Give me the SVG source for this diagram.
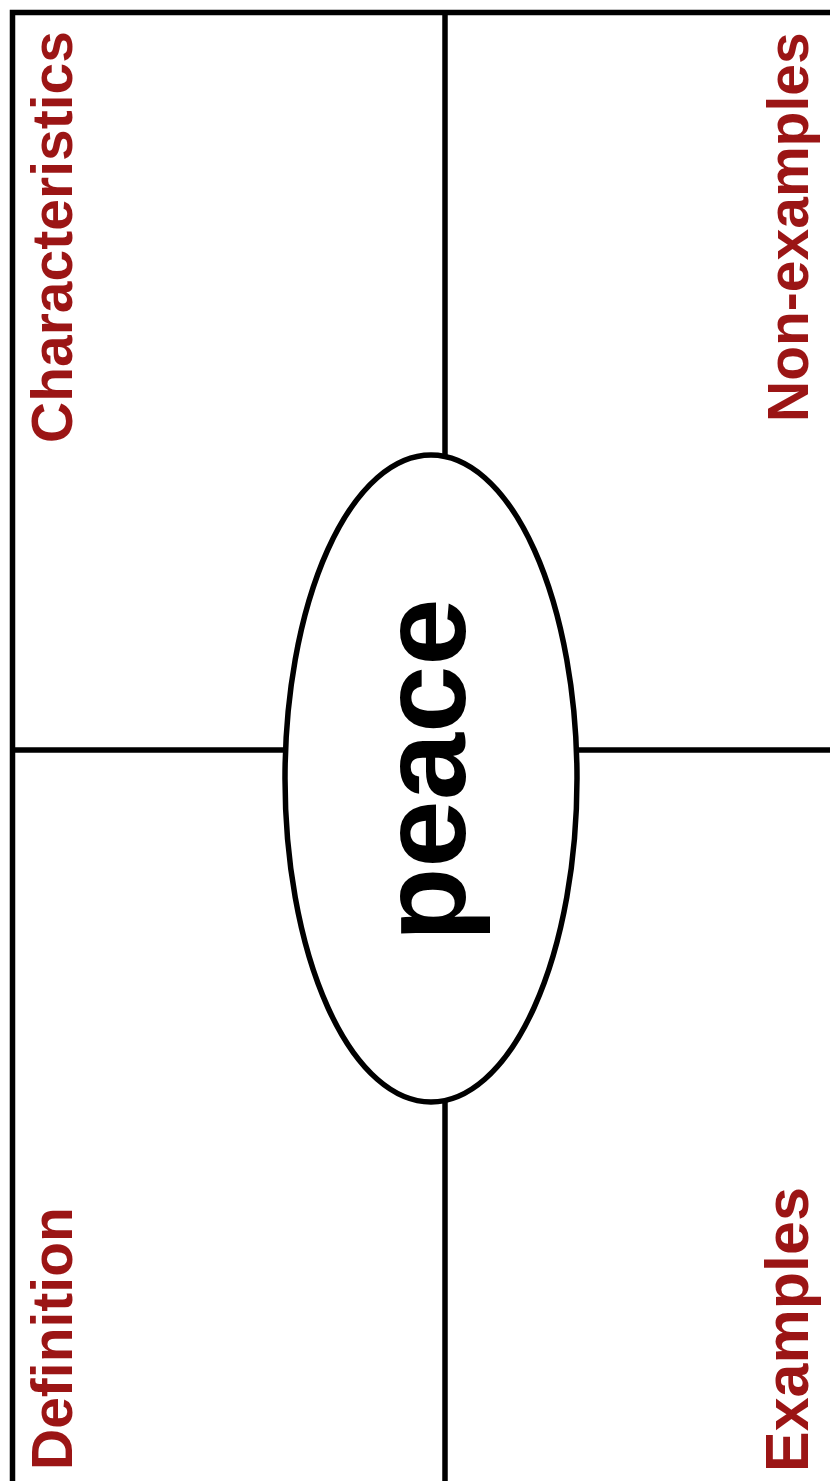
<svg xmlns="http://www.w3.org/2000/svg" width="830" height="1481" viewBox="0 0 830 1481">
<style>
.ln{stroke:#000;stroke-width:5.5;fill:none}
.lbl{font-family:"Liberation Sans",Arial,sans-serif;font-weight:bold;font-size:57px;fill:#9b1515}
.word{font-family:"Liberation Sans",Arial,sans-serif;font-weight:bold;font-size:121px;fill:#000}
</style>
<rect width="830" height="1481" fill="#fff"/>
<g id="connectors">
<path class="ln" d="M12.5,1481 V12.5 H830"/>
<path class="ln" d="M445,12.5 V456"/>
<path class="ln" d="M445,1101 V1481"/>
<path class="ln" d="M12.5,750 H286"/>
<path class="ln" d="M576,750 H830"/>
</g>
<g id="characteristics"><text class="lbl" transform="translate(72,443) rotate(-90)">Characteristics</text></g>
<g id="non-examples"><text class="lbl" transform="translate(808,422) rotate(-90)">Non-examples</text></g>
<g id="definition"><text class="lbl" transform="translate(72,1470) rotate(-90)">Definition</text></g>
<g id="examples"><text class="lbl" style="font-size:61px" transform="translate(808,1472) rotate(-90)">Examples</text></g>
<g id="peace">
<ellipse class="ln" cx="431" cy="778.5" rx="146" ry="323.5" fill="#fff"/>
<text class="word" text-anchor="middle" transform="translate(465,770) rotate(-90)">peace</text>
</g>
</svg>
